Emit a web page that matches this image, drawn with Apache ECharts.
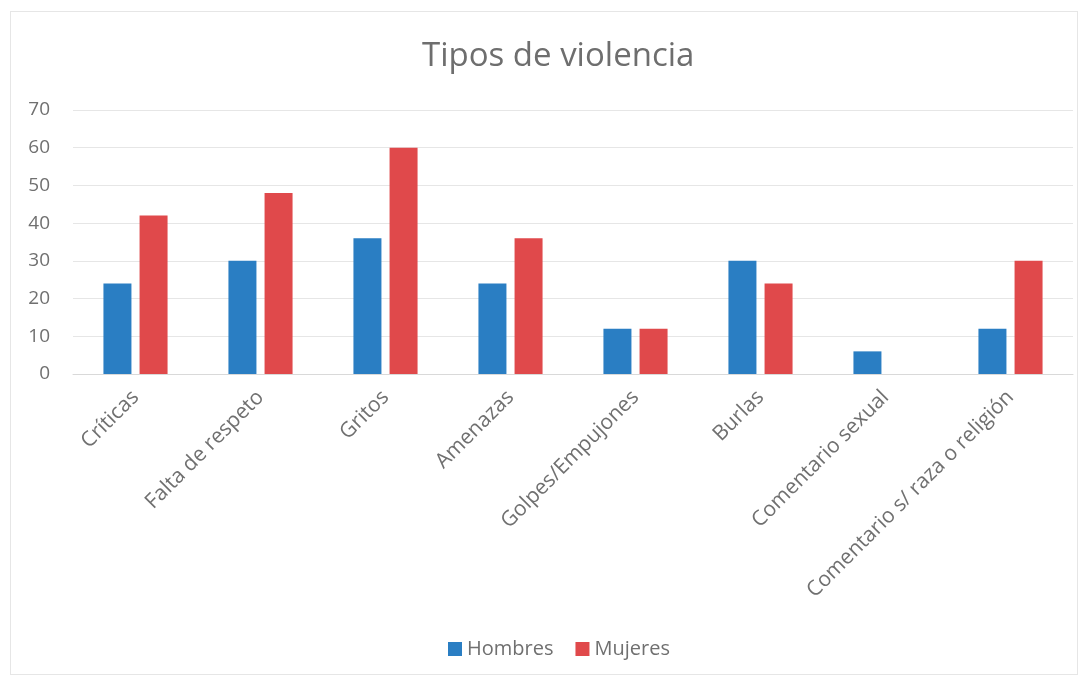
<!DOCTYPE html>
<html><head><meta charset="utf-8">
<script src="https://cdn.jsdelivr.net/npm/echarts@6/dist/echarts.min.js"></script>
<style>
html,body{margin:0;padding:0;background:#fff;}
#frame{position:absolute;left:10px;top:11px;width:1068px;height:664px;border:1px solid #e6e6e6;box-sizing:border-box;}
#c{position:absolute;left:0;top:0;width:1090px;height:682px;}
</style></head>
<body><div id="frame"></div><div id="c"></div>
<script>
const categories = ["Críticas","Falta de respeto","Gritos","Amenazas","Golpes/Empujones","Burlas","Comentario sexual","Comentario s/ raza o religión"];
const hombres = [24,30,36,24,12,30,6,12];
const mujeres = [42,48,60,36,12,24,0,30];
const yTicks = [0,10,20,30,40,50,60,70];

const chart = echarts.init(document.getElementById('c'));
const font = "'Open Sans', 'Noto Sans', sans-serif";
chart.setOption({
  animation:false,
  title:{text:"Tipos de violencia",left:417,top:35,textStyle:{fontFamily:font,fontSize:33,fontWeight:'normal',color:'#6e6e6e'}},
  legend:{bottom:18,left:443,itemWidth:14,itemHeight:14,itemGap:22,icon:'rect',
    textStyle:{fontFamily:font,fontSize:20,color:'#707070'},data:['Hombres','Mujeres']},
  grid:{left:73,right:17,top:110,bottom:308,containLabel:false},
  xAxis:{type:'category',data:categories,
    axisLine:{lineStyle:{color:'#d9d9d9',width:1}},axisTick:{show:false},
    axisLabel:{rotate:45,interval:0,fontFamily:font,fontSize:21,color:'#707070',margin:20}},
  yAxis:{type:'value',min:0,max:70,interval:10,
    axisLine:{show:false},axisTick:{show:false},
    splitLine:{lineStyle:{color:'#e6e6e6',width:1}},
    axisLabel:{fontFamily:font,fontSize:19,color:'#707070',margin:23,
      formatter:v=>yTicks.includes(v)?String(v):''}},
  series:[
    {name:'Hombres',type:'bar',data:hombres,barWidth:28,barGap:'29%',itemStyle:{color:'#2a7ec3'}},
    {name:'Mujeres',type:'bar',data:mujeres,barWidth:28,itemStyle:{color:'#e0494b'}}
  ]
});
</script></body></html>
